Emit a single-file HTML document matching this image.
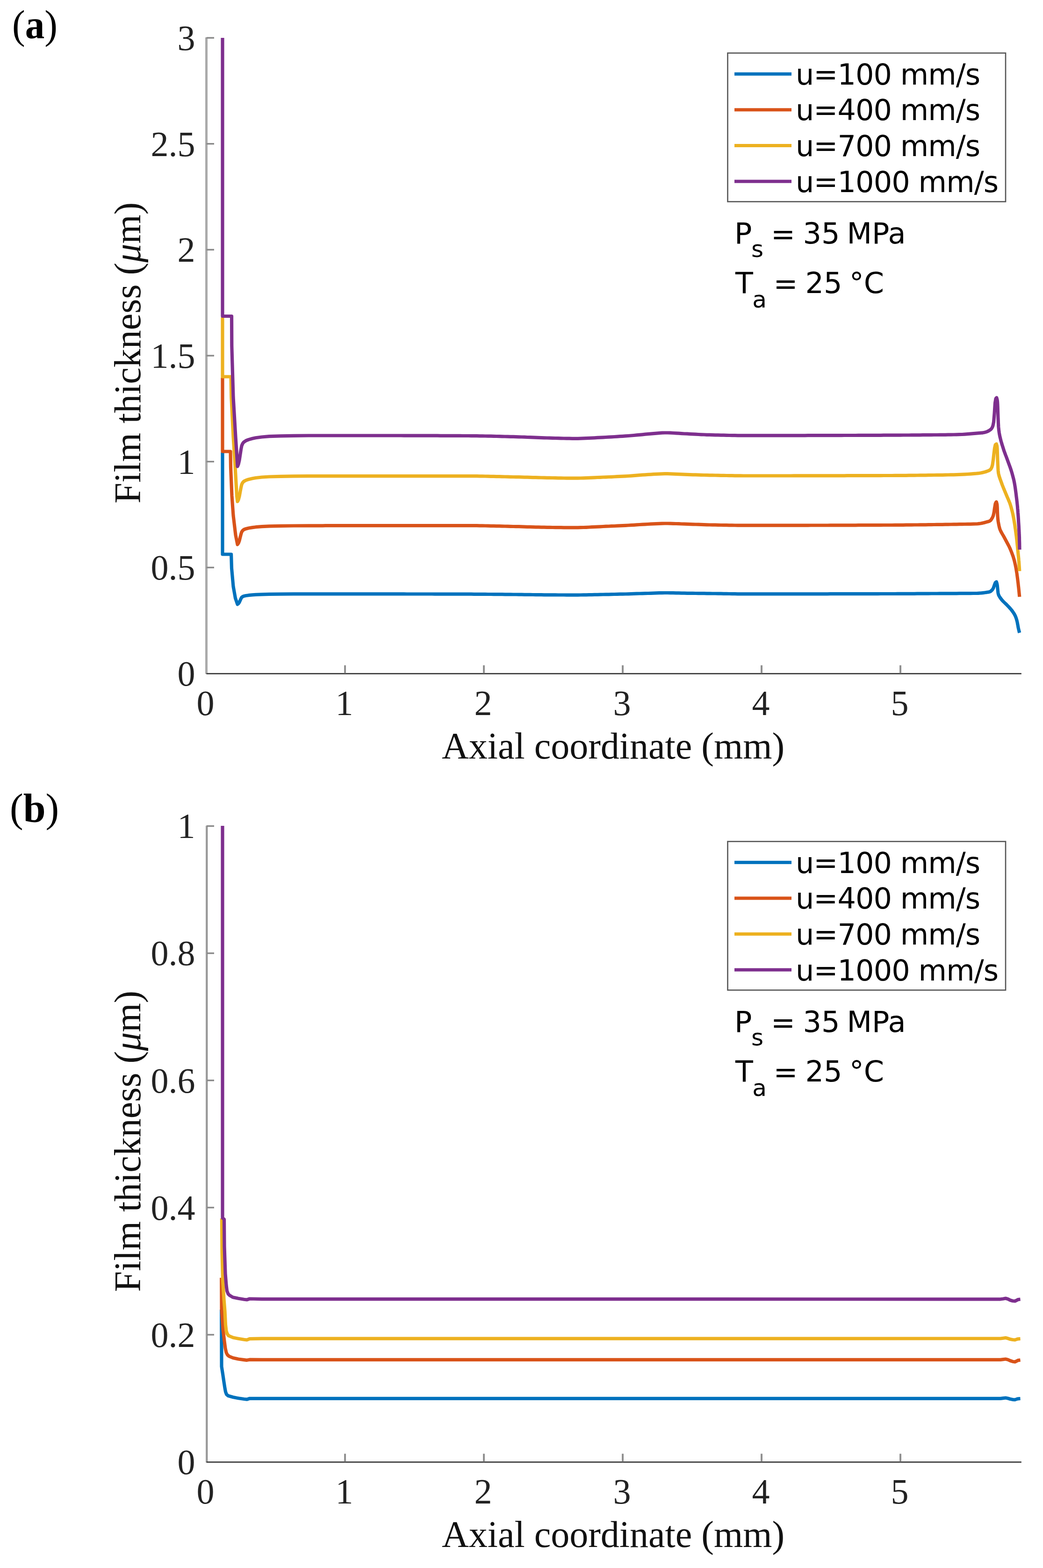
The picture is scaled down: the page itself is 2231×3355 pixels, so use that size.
<!DOCTYPE html>
<html><head><meta charset="utf-8"><title>Film thickness</title>
<style>
html,body{margin:0;padding:0;background:#fff;}
svg{display:block;}
.tk{font-family:"Liberation Serif",serif;font-size:76px;fill:#222;}
.lab{font-family:"Liberation Serif",serif;font-size:80px;fill:#111;}
.pl{font-family:"Liberation Serif",serif;font-size:86px;fill:#000;}
.lg{font-family:"DejaVu Sans","Liberation Sans",sans-serif;font-size:62px;fill:#000;}
.sub{font-family:"DejaVu Sans","Liberation Sans",sans-serif;font-size:50px;fill:#000;}
</style></head><body>
<svg width="2231" height="3355" viewBox="0 0 2231 3355">
<rect x="0" y="0" width="2231" height="3355" fill="#ffffff"/>
<text x="26" y="81.6" class="pl" textLength="97" lengthAdjust="spacingAndGlyphs">(<tspan font-weight="bold">a</tspan>)</text>
<text x="21" y="1758" class="pl">(<tspan font-weight="bold">b</tspan>)</text>
<rect x="439" y="80" width="5" height="1362" fill="#aaaaaa"/>
<text x="417.5" y="1466.8" text-anchor="end" class="tk">0</text>
<rect x="441.5" y="1212.6" width="16.5" height="3.4" fill="#8a8a8a"/>
<text x="417.5" y="1240.1" text-anchor="end" class="tk">0.5</text>
<rect x="441.5" y="986.0" width="16.5" height="3.4" fill="#8a8a8a"/>
<text x="417.5" y="1013.5" text-anchor="end" class="tk">1</text>
<rect x="441.5" y="759.3" width="16.5" height="3.4" fill="#8a8a8a"/>
<text x="417.5" y="786.8" text-anchor="end" class="tk">1.5</text>
<rect x="441.5" y="532.6" width="16.5" height="3.4" fill="#8a8a8a"/>
<text x="417.5" y="560.1" text-anchor="end" class="tk">2</text>
<rect x="441.5" y="306.0" width="16.5" height="3.4" fill="#8a8a8a"/>
<text x="417.5" y="333.5" text-anchor="end" class="tk">2.5</text>
<rect x="441.5" y="79.3" width="16.5" height="3.4" fill="#8a8a8a"/>
<text x="417.5" y="106.8" text-anchor="end" class="tk">3</text>
<rect x="441.4" y="1440" width="1743.4" height="2.8" fill="#404040"/>
<text x="439.5" y="1530" text-anchor="middle" class="tk">0</text>
<rect x="736.0" y="1423.5" width="4" height="17" fill="#909090"/>
<text x="736.5" y="1530" text-anchor="middle" class="tk">1</text>
<rect x="1033.0" y="1423.5" width="4" height="17" fill="#909090"/>
<text x="1033.5" y="1530" text-anchor="middle" class="tk">2</text>
<rect x="1330.0" y="1423.5" width="4" height="17" fill="#909090"/>
<text x="1330.5" y="1530" text-anchor="middle" class="tk">3</text>
<rect x="1627.0" y="1423.5" width="4" height="17" fill="#909090"/>
<text x="1627.5" y="1530" text-anchor="middle" class="tk">4</text>
<rect x="1924.0" y="1423.5" width="4" height="17" fill="#909090"/>
<text x="1924.5" y="1530" text-anchor="middle" class="tk">5</text>
<text x="1311.5" y="1622.5" text-anchor="middle" class="lab">Axial coordinate (mm)</text>
<text transform="translate(299.5,755) rotate(-90)" text-anchor="middle" class="lab">Film thickness (<tspan font-style="italic">μ</tspan>m)</text>
<polyline points="476.0,968.0 476.0,1186.0 494.6,1186.0 495.5,1216.0 499.0,1255.0 503.5,1280.0 508.0,1293.0 510.0,1291.4 512.0,1288.6 514.0,1284.1 515.5,1280.8 517.0,1278.1 519.0,1276.6 521.5,1275.5 526.0,1274.5 531.7,1273.7 540.0,1272.9 547.0,1272.4 560.0,1271.8 576.0,1271.4 600.0,1271.1 628.0,1270.9 660.0,1270.8 666.0,1270.8 672.0,1270.8 678.0,1270.8 684.0,1270.8 690.0,1270.8 696.0,1270.8 702.0,1270.8 708.0,1270.8 714.0,1270.8 720.0,1270.8 726.0,1270.8 732.0,1270.8 738.0,1270.8 744.0,1270.8 750.0,1270.8 756.0,1270.8 762.0,1270.8 768.0,1270.8 774.0,1270.8 780.0,1270.8 786.0,1270.9 792.0,1270.9 798.0,1270.9 804.0,1270.9 810.0,1270.9 816.0,1270.9 822.0,1270.9 828.0,1270.9 834.0,1270.9 840.0,1270.9 846.0,1270.9 852.0,1270.9 858.0,1270.9 864.0,1270.9 870.0,1271.0 876.0,1271.0 882.0,1271.0 888.0,1271.0 894.0,1271.0 900.0,1271.0 906.0,1271.0 912.0,1271.0 918.0,1271.0 924.0,1271.0 930.0,1271.1 936.0,1271.1 942.0,1271.1 948.0,1271.1 954.0,1271.1 960.0,1271.1 966.0,1271.1 972.0,1271.1 978.0,1271.1 984.0,1271.2 990.0,1271.2 996.0,1271.2 1002.0,1271.2 1008.0,1271.2 1014.0,1271.3 1020.0,1271.3 1026.0,1271.3 1032.0,1271.4 1038.0,1271.4 1044.0,1271.5 1050.0,1271.5 1056.0,1271.6 1062.0,1271.6 1068.0,1271.7 1074.0,1271.7 1080.0,1271.8 1086.0,1271.9 1092.0,1271.9 1098.0,1272.0 1104.0,1272.0 1110.0,1272.1 1116.0,1272.2 1122.0,1272.3 1128.0,1272.3 1134.0,1272.4 1140.0,1272.5 1146.0,1272.6 1152.0,1272.6 1158.0,1272.7 1164.0,1272.8 1170.0,1272.8 1176.0,1272.8 1182.0,1272.9 1188.0,1272.9 1194.0,1273.0 1200.0,1273.0 1206.0,1273.0 1212.0,1273.1 1218.0,1273.1 1224.0,1273.1 1230.0,1273.1 1236.0,1273.1 1242.0,1273.0 1248.0,1272.9 1254.0,1272.8 1260.0,1272.7 1266.0,1272.6 1272.0,1272.4 1278.0,1272.3 1284.0,1272.1 1290.0,1272.0 1296.0,1271.9 1302.0,1271.8 1308.0,1271.6 1314.0,1271.5 1320.0,1271.4 1326.0,1271.2 1332.0,1271.1 1338.0,1271.0 1344.0,1270.8 1350.0,1270.6 1356.0,1270.4 1362.0,1270.2 1368.0,1270.0 1374.0,1269.8 1380.0,1269.6 1386.0,1269.5 1392.0,1269.3 1398.0,1269.1 1404.0,1268.9 1410.0,1268.7 1416.0,1268.6 1422.0,1268.5 1428.0,1268.5 1434.0,1268.6 1440.0,1268.7 1446.0,1268.8 1452.0,1268.9 1458.0,1269.1 1464.0,1269.2 1470.0,1269.3 1476.0,1269.4 1482.0,1269.4 1488.0,1269.5 1494.0,1269.6 1500.0,1269.7 1506.0,1269.7 1512.0,1269.8 1518.0,1269.9 1524.0,1270.0 1530.0,1270.0 1536.0,1270.1 1542.0,1270.2 1548.0,1270.3 1554.0,1270.4 1560.0,1270.5 1566.0,1270.6 1572.0,1270.7 1578.0,1270.8 1584.0,1270.8 1590.0,1270.9 1596.0,1270.9 1602.0,1270.9 1608.0,1270.9 1614.0,1270.9 1620.0,1270.9 1626.0,1270.9 1632.0,1270.9 1638.0,1270.9 1644.0,1270.9 1650.0,1270.9 1656.0,1270.9 1662.0,1270.9 1668.0,1270.9 1674.0,1270.9 1680.0,1270.9 1686.0,1270.9 1692.0,1270.9 1698.0,1270.9 1704.0,1270.8 1710.0,1270.8 1716.0,1270.8 1722.0,1270.8 1728.0,1270.8 1734.0,1270.8 1740.0,1270.8 1746.0,1270.8 1752.0,1270.8 1758.0,1270.8 1764.0,1270.8 1770.0,1270.8 1776.0,1270.7 1782.0,1270.7 1788.0,1270.7 1794.0,1270.7 1800.0,1270.7 1806.0,1270.7 1812.0,1270.7 1818.0,1270.7 1824.0,1270.7 1830.0,1270.7 1836.0,1270.6 1842.0,1270.6 1848.0,1270.6 1854.0,1270.6 1860.0,1270.6 1866.0,1270.6 1872.0,1270.6 1878.0,1270.6 1884.0,1270.5 1890.0,1270.5 1896.0,1270.5 1902.0,1270.5 1908.0,1270.5 1914.0,1270.5 1920.0,1270.4 1926.0,1270.4 1932.0,1270.4 1938.0,1270.4 1944.0,1270.3 1950.0,1270.3 1956.0,1270.3 1962.0,1270.2 1968.0,1270.2 1974.0,1270.1 1980.0,1270.1 1986.0,1270.1 1992.0,1270.0 1998.0,1270.0 2004.0,1270.0 2010.0,1269.9 2016.0,1269.9 2022.0,1269.9 2028.0,1269.8 2034.0,1269.8 2040.0,1269.8 2046.0,1269.8 2052.0,1269.7 2058.0,1269.7 2064.0,1269.6 2070.0,1269.6 2076.0,1269.6 2082.0,1269.5 2088.0,1269.5 2090.0,1269.5 2091.5,1269.4 2093.0,1269.3 2094.5,1269.2 2096.0,1269.1 2097.5,1269.0 2099.0,1268.9 2100.5,1268.8 2102.0,1268.6 2103.5,1268.4 2105.0,1268.2 2106.5,1268.0 2108.0,1267.8 2109.5,1267.6 2111.0,1267.3 2112.5,1267.1 2114.0,1266.9 2115.5,1266.6 2117.0,1266.2 2118.5,1265.6 2120.0,1264.4 2121.5,1263.0 2123.0,1261.3 2124.5,1258.9 2126.0,1254.9 2127.5,1250.6 2129.0,1247.0 2130.5,1245.3 2131.3,1245.0 2131.3,1245.0 2132.3,1248.0 2133.0,1251.0 2133.4,1254.0 2133.7,1257.0 2134.0,1260.0 2134.3,1263.0 2134.6,1266.0 2135.0,1269.0 2135.7,1272.0 2137.0,1275.0 2138.8,1278.0 2141.0,1281.0 2143.3,1284.0 2146.1,1287.0 2149.2,1290.0 2152.4,1293.0 2155.3,1296.0 2158.2,1299.0 2160.9,1302.0 2163.5,1305.0 2165.7,1308.0 2167.8,1311.0 2169.7,1314.0 2171.3,1317.0 2172.6,1320.0 2173.7,1323.0 2174.6,1326.0 2175.4,1329.0 2176.1,1332.0 2176.6,1335.0 2177.2,1338.0 2177.7,1341.0 2178.3,1344.0 2179.0,1347.0 2179.7,1350.0 2180.5,1353.0 2180.8,1354.0" fill="none" stroke="#0072BD" stroke-width="7.2" stroke-linejoin="round" stroke-linecap="butt"/>
<polyline points="476.0,808.0 476.0,966.0 493.0,966.0 493.5,1000.0 496.0,1061.0 499.0,1103.0 504.0,1145.0 508.0,1165.0 510.0,1162.2 512.0,1157.0 514.0,1148.9 515.5,1142.9 517.0,1138.1 519.0,1135.3 521.5,1133.2 526.0,1131.4 531.7,1130.0 540.0,1128.6 547.0,1127.7 560.0,1126.6 576.0,1125.8 600.0,1125.3 628.0,1125.0 660.0,1124.8 666.0,1124.8 672.0,1124.8 678.0,1124.8 684.0,1124.8 690.0,1124.8 696.0,1124.7 702.0,1124.7 708.0,1124.7 714.0,1124.7 720.0,1124.7 726.0,1124.7 732.0,1124.7 738.0,1124.7 744.0,1124.7 750.0,1124.7 756.0,1124.7 762.0,1124.7 768.0,1124.7 774.0,1124.7 780.0,1124.7 786.0,1124.6 792.0,1124.6 798.0,1124.6 804.0,1124.6 810.0,1124.6 816.0,1124.6 822.0,1124.6 828.0,1124.6 834.0,1124.6 840.0,1124.6 846.0,1124.6 852.0,1124.6 858.0,1124.6 864.0,1124.6 870.0,1124.6 876.0,1124.6 882.0,1124.6 888.0,1124.6 894.0,1124.6 900.0,1124.6 906.0,1124.6 912.0,1124.6 918.0,1124.6 924.0,1124.6 930.0,1124.6 936.0,1124.6 942.0,1124.6 948.0,1124.6 954.0,1124.6 960.0,1124.6 966.0,1124.6 972.0,1124.6 978.0,1124.6 984.0,1124.6 990.0,1124.6 996.0,1124.6 1002.0,1124.6 1008.0,1124.6 1014.0,1124.7 1020.0,1124.7 1026.0,1124.8 1032.0,1124.9 1038.0,1125.0 1044.0,1125.1 1050.0,1125.3 1056.0,1125.4 1062.0,1125.6 1068.0,1125.7 1074.0,1125.9 1080.0,1126.0 1086.0,1126.2 1092.0,1126.3 1098.0,1126.5 1104.0,1126.6 1110.0,1126.7 1116.0,1126.9 1122.0,1127.1 1128.0,1127.3 1134.0,1127.4 1140.0,1127.6 1146.0,1127.8 1152.0,1127.9 1158.0,1128.1 1164.0,1128.2 1170.0,1128.3 1176.0,1128.4 1182.0,1128.5 1188.0,1128.6 1194.0,1128.6 1200.0,1128.7 1206.0,1128.8 1212.0,1128.8 1218.0,1128.9 1224.0,1128.9 1230.0,1128.9 1236.0,1128.9 1242.0,1128.7 1248.0,1128.5 1254.0,1128.3 1260.0,1128.0 1266.0,1127.7 1272.0,1127.4 1278.0,1127.1 1284.0,1126.8 1290.0,1126.5 1296.0,1126.2 1302.0,1126.0 1308.0,1125.7 1314.0,1125.5 1320.0,1125.2 1326.0,1124.9 1332.0,1124.6 1338.0,1124.3 1344.0,1124.0 1350.0,1123.7 1356.0,1123.3 1362.0,1122.9 1368.0,1122.5 1374.0,1122.1 1380.0,1121.8 1386.0,1121.5 1392.0,1121.2 1398.0,1120.9 1404.0,1120.6 1410.0,1120.3 1416.0,1120.1 1422.0,1120.0 1428.0,1120.0 1434.0,1120.1 1440.0,1120.3 1446.0,1120.5 1452.0,1120.7 1458.0,1121.0 1464.0,1121.2 1470.0,1121.4 1476.0,1121.6 1482.0,1121.8 1488.0,1122.0 1494.0,1122.2 1500.0,1122.4 1506.0,1122.6 1512.0,1122.8 1518.0,1123.0 1524.0,1123.1 1530.0,1123.2 1536.0,1123.3 1542.0,1123.5 1548.0,1123.6 1554.0,1123.7 1560.0,1123.8 1566.0,1123.9 1572.0,1124.0 1578.0,1124.1 1584.0,1124.1 1590.0,1124.2 1596.0,1124.2 1602.0,1124.2 1608.0,1124.2 1614.0,1124.2 1620.0,1124.2 1626.0,1124.2 1632.0,1124.2 1638.0,1124.2 1644.0,1124.2 1650.0,1124.2 1656.0,1124.2 1662.0,1124.2 1668.0,1124.2 1674.0,1124.2 1680.0,1124.1 1686.0,1124.1 1692.0,1124.1 1698.0,1124.1 1704.0,1124.1 1710.0,1124.1 1716.0,1124.1 1722.0,1124.1 1728.0,1124.1 1734.0,1124.0 1740.0,1124.0 1746.0,1124.0 1752.0,1124.0 1758.0,1124.0 1764.0,1124.0 1770.0,1124.0 1776.0,1123.9 1782.0,1123.9 1788.0,1123.9 1794.0,1123.9 1800.0,1123.9 1806.0,1123.9 1812.0,1123.8 1818.0,1123.8 1824.0,1123.8 1830.0,1123.8 1836.0,1123.7 1842.0,1123.7 1848.0,1123.7 1854.0,1123.7 1860.0,1123.7 1866.0,1123.6 1872.0,1123.6 1878.0,1123.6 1884.0,1123.6 1890.0,1123.5 1896.0,1123.5 1902.0,1123.5 1908.0,1123.5 1914.0,1123.4 1920.0,1123.4 1926.0,1123.3 1932.0,1123.3 1938.0,1123.2 1944.0,1123.2 1950.0,1123.1 1956.0,1123.0 1962.0,1123.0 1968.0,1122.9 1974.0,1122.8 1980.0,1122.8 1986.0,1122.7 1992.0,1122.6 1998.0,1122.5 2004.0,1122.4 2010.0,1122.4 2016.0,1122.3 2022.0,1122.2 2028.0,1122.1 2034.0,1122.0 2040.0,1121.9 2046.0,1121.8 2052.0,1121.7 2058.0,1121.6 2064.0,1121.5 2070.0,1121.4 2076.0,1121.3 2082.0,1121.2 2088.0,1121.0 2090.0,1121.0 2091.5,1120.8 2093.0,1120.6 2094.5,1120.4 2096.0,1120.2 2097.5,1120.0 2099.0,1119.7 2100.5,1119.4 2102.0,1119.1 2103.5,1118.7 2105.0,1118.4 2106.5,1118.0 2108.0,1117.6 2109.5,1117.1 2111.0,1116.7 2112.5,1116.3 2114.0,1115.9 2115.5,1115.5 2117.0,1114.8 2118.5,1113.8 2120.0,1112.1 2121.5,1109.8 2123.0,1107.2 2124.5,1103.6 2126.0,1097.4 2127.5,1087.0 2129.0,1078.0 2130.5,1074.6 2131.3,1074.0 2131.3,1074.0 2132.2,1077.0 2132.8,1080.0 2133.0,1083.0 2133.2,1086.0 2133.3,1089.0 2133.4,1092.0 2133.5,1095.0 2133.6,1098.0 2133.8,1101.0 2133.9,1104.0 2134.2,1107.0 2134.4,1110.0 2134.8,1113.0 2135.2,1116.0 2135.7,1119.0 2136.3,1122.0 2136.9,1125.0 2137.6,1128.0 2138.4,1131.0 2139.5,1134.0 2140.9,1137.0 2142.5,1140.0 2144.2,1143.0 2146.0,1146.0 2147.7,1149.0 2149.3,1152.0 2150.9,1155.0 2152.5,1158.0 2154.1,1161.0 2155.7,1164.0 2157.3,1167.0 2158.8,1170.0 2160.2,1173.0 2161.5,1176.0 2162.7,1179.0 2163.9,1182.0 2165.0,1185.0 2166.1,1188.0 2167.2,1191.0 2168.1,1194.0 2169.0,1197.0 2169.8,1200.0 2170.5,1203.0 2171.2,1206.0 2171.9,1209.0 2172.5,1212.0 2173.1,1215.0 2173.6,1218.0 2174.1,1221.0 2174.6,1224.0 2175.1,1227.0 2175.5,1230.0 2175.9,1233.0 2176.3,1236.0 2176.7,1239.0 2177.0,1242.0 2177.4,1245.0 2177.8,1248.0 2178.1,1251.0 2178.4,1254.0 2178.8,1257.0 2179.1,1260.0 2179.4,1263.0 2179.7,1266.0 2180.0,1269.0 2180.3,1272.0 2180.6,1275.0 2180.8,1277.0" fill="none" stroke="#D95319" stroke-width="7.2" stroke-linejoin="round" stroke-linecap="butt"/>
<polyline points="476.0,679.0 476.0,806.0 494.0,806.0 494.8,850.0 499.0,935.0 503.0,998.0 506.5,1061.0 508.0,1073.0 510.0,1069.2 512.0,1062.1 514.0,1051.2 515.5,1043.1 517.0,1036.6 519.0,1032.7 521.5,1030.0 526.0,1027.6 531.7,1025.7 540.0,1023.8 547.0,1022.5 560.0,1021.0 576.0,1020.0 600.0,1019.3 628.0,1018.8 660.0,1018.6 666.0,1018.6 672.0,1018.6 678.0,1018.6 684.0,1018.6 690.0,1018.6 696.0,1018.6 702.0,1018.6 708.0,1018.6 714.0,1018.6 720.0,1018.6 726.0,1018.6 732.0,1018.6 738.0,1018.6 744.0,1018.6 750.0,1018.6 756.0,1018.6 762.0,1018.6 768.0,1018.6 774.0,1018.6 780.0,1018.6 786.0,1018.6 792.0,1018.6 798.0,1018.6 804.0,1018.6 810.0,1018.6 816.0,1018.6 822.0,1018.6 828.0,1018.6 834.0,1018.6 840.0,1018.6 846.0,1018.6 852.0,1018.6 858.0,1018.6 864.0,1018.6 870.0,1018.6 876.0,1018.6 882.0,1018.6 888.0,1018.6 894.0,1018.6 900.0,1018.6 906.0,1018.6 912.0,1018.6 918.0,1018.6 924.0,1018.6 930.0,1018.6 936.0,1018.6 942.0,1018.6 948.0,1018.6 954.0,1018.6 960.0,1018.6 966.0,1018.6 972.0,1018.6 978.0,1018.6 984.0,1018.6 990.0,1018.6 996.0,1018.6 1002.0,1018.6 1008.0,1018.6 1014.0,1018.7 1020.0,1018.7 1026.0,1018.8 1032.0,1018.9 1038.0,1019.0 1044.0,1019.1 1050.0,1019.3 1056.0,1019.4 1062.0,1019.6 1068.0,1019.7 1074.0,1019.9 1080.0,1020.0 1086.0,1020.2 1092.0,1020.3 1098.0,1020.5 1104.0,1020.6 1110.0,1020.7 1116.0,1020.9 1122.0,1021.1 1128.0,1021.2 1134.0,1021.4 1140.0,1021.6 1146.0,1021.7 1152.0,1021.9 1158.0,1022.0 1164.0,1022.2 1170.0,1022.3 1176.0,1022.4 1182.0,1022.5 1188.0,1022.7 1194.0,1022.8 1200.0,1022.9 1206.0,1023.0 1212.0,1023.1 1218.0,1023.1 1224.0,1023.2 1230.0,1023.2 1236.0,1023.2 1242.0,1023.0 1248.0,1022.9 1254.0,1022.7 1260.0,1022.4 1266.0,1022.1 1272.0,1021.8 1278.0,1021.5 1284.0,1021.3 1290.0,1021.0 1296.0,1020.8 1302.0,1020.5 1308.0,1020.3 1314.0,1020.0 1320.0,1019.7 1326.0,1019.4 1332.0,1019.1 1338.0,1018.8 1344.0,1018.5 1350.0,1018.1 1356.0,1017.7 1362.0,1017.2 1368.0,1016.7 1374.0,1016.2 1380.0,1015.8 1386.0,1015.4 1392.0,1015.1 1398.0,1014.7 1404.0,1014.4 1410.0,1014.1 1416.0,1013.8 1422.0,1013.7 1428.0,1013.7 1434.0,1013.8 1440.0,1014.1 1446.0,1014.3 1452.0,1014.6 1458.0,1014.9 1464.0,1015.2 1470.0,1015.4 1476.0,1015.6 1482.0,1015.8 1488.0,1015.9 1494.0,1016.1 1500.0,1016.3 1506.0,1016.5 1512.0,1016.6 1518.0,1016.8 1524.0,1016.9 1530.0,1017.0 1536.0,1017.1 1542.0,1017.3 1548.0,1017.4 1554.0,1017.5 1560.0,1017.6 1566.0,1017.7 1572.0,1017.8 1578.0,1017.9 1584.0,1017.9 1590.0,1018.0 1596.0,1018.0 1602.0,1018.0 1608.0,1018.0 1614.0,1018.0 1620.0,1018.0 1626.0,1018.0 1632.0,1018.0 1638.0,1018.0 1644.0,1018.0 1650.0,1018.0 1656.0,1018.0 1662.0,1018.0 1668.0,1018.0 1674.0,1018.0 1680.0,1018.0 1686.0,1018.0 1692.0,1018.0 1698.0,1017.9 1704.0,1017.9 1710.0,1017.9 1716.0,1017.9 1722.0,1017.9 1728.0,1017.9 1734.0,1017.9 1740.0,1017.9 1746.0,1017.9 1752.0,1017.9 1758.0,1017.9 1764.0,1017.8 1770.0,1017.8 1776.0,1017.8 1782.0,1017.8 1788.0,1017.8 1794.0,1017.8 1800.0,1017.8 1806.0,1017.8 1812.0,1017.7 1818.0,1017.7 1824.0,1017.7 1830.0,1017.7 1836.0,1017.7 1842.0,1017.7 1848.0,1017.7 1854.0,1017.6 1860.0,1017.6 1866.0,1017.6 1872.0,1017.6 1878.0,1017.6 1884.0,1017.6 1890.0,1017.5 1896.0,1017.5 1902.0,1017.5 1908.0,1017.5 1914.0,1017.4 1920.0,1017.4 1926.0,1017.4 1932.0,1017.3 1938.0,1017.3 1944.0,1017.2 1950.0,1017.1 1956.0,1017.1 1962.0,1017.0 1968.0,1016.9 1974.0,1016.8 1980.0,1016.8 1986.0,1016.7 1992.0,1016.6 1998.0,1016.5 2004.0,1016.4 2010.0,1016.4 2016.0,1016.3 2022.0,1016.2 2028.0,1016.0 2034.0,1015.9 2040.0,1015.8 2046.0,1015.6 2052.0,1015.4 2058.0,1015.2 2064.0,1014.9 2070.0,1014.5 2076.0,1014.1 2082.0,1013.6 2088.0,1013.2 2090.0,1013.0 2091.5,1012.8 2093.0,1012.7 2094.5,1012.5 2096.0,1012.2 2097.5,1012.0 2099.0,1011.7 2100.5,1011.4 2102.0,1011.1 2103.5,1010.7 2105.0,1010.3 2106.5,1009.9 2108.0,1009.5 2109.5,1009.0 2111.0,1008.5 2112.5,1007.9 2114.0,1007.4 2115.5,1006.7 2117.0,1005.8 2118.5,1004.7 2120.0,1002.8 2121.5,999.7 2123.0,994.4 2124.5,984.1 2126.0,970.6 2127.5,958.8 2129.0,952.0 2130.5,950.3 2131.3,950.0 2131.3,950.0 2132.2,953.0 2132.8,956.0 2133.0,959.0 2133.2,962.0 2133.3,965.0 2133.4,968.0 2133.5,971.0 2133.6,974.0 2133.7,977.0 2133.8,980.0 2133.9,983.0 2134.0,986.0 2134.1,989.0 2134.3,992.0 2134.4,995.0 2134.6,998.0 2134.7,1001.0 2134.9,1004.0 2135.1,1007.0 2135.4,1010.0 2135.8,1013.0 2136.5,1016.0 2137.3,1019.0 2138.3,1022.0 2139.3,1025.0 2140.4,1028.0 2141.5,1031.0 2142.6,1034.0 2143.6,1037.0 2144.8,1040.0 2146.0,1043.0 2147.2,1046.0 2148.5,1049.0 2149.7,1052.0 2151.0,1055.0 2152.2,1058.0 2153.5,1061.0 2154.7,1064.0 2156.1,1067.0 2157.3,1070.0 2158.6,1073.0 2159.8,1076.0 2160.9,1079.0 2161.8,1082.0 2162.7,1085.0 2163.5,1088.0 2164.3,1091.0 2165.1,1094.0 2165.8,1097.0 2166.5,1100.0 2167.1,1103.0 2167.7,1106.0 2168.3,1109.0 2168.8,1112.0 2169.3,1115.0 2169.8,1118.0 2170.3,1121.0 2170.8,1124.0 2171.2,1127.0 2171.6,1130.0 2172.1,1133.0 2172.5,1136.0 2172.9,1139.0 2173.3,1142.0 2173.7,1145.0 2174.1,1148.0 2174.4,1151.0 2174.8,1154.0 2175.1,1157.0 2175.4,1160.0 2175.7,1163.0 2176.0,1166.0 2176.3,1169.0 2176.6,1172.0 2176.9,1175.0 2177.2,1178.0 2177.5,1181.0 2177.8,1184.0 2178.1,1187.0 2178.4,1190.0 2178.7,1193.0 2179.0,1196.0 2179.2,1199.0 2179.5,1202.0 2179.7,1205.0 2179.9,1208.0 2180.1,1211.0 2180.3,1214.0 2180.5,1217.0 2180.7,1220.0 2180.8,1222.0" fill="none" stroke="#EDB120" stroke-width="7.2" stroke-linejoin="round" stroke-linecap="butt"/>
<polyline points="476.0,81.0 476.0,676.5 495.5,676.5 495.8,740.0 499.0,850.0 504.0,935.0 506.0,965.0 508.0,998.0 510.0,993.4 512.0,984.8 514.0,971.6 515.5,961.7 517.0,953.8 519.0,949.2 521.5,945.9 526.0,942.9 531.7,940.6 540.0,938.3 547.0,936.8 560.0,935.0 576.0,933.6 600.0,932.8 628.0,932.3 660.0,932.0 666.0,932.0 672.0,932.0 678.0,932.0 684.0,932.0 690.0,932.0 696.0,932.0 702.0,932.0 708.0,932.0 714.0,932.0 720.0,932.0 726.0,932.0 732.0,932.0 738.0,932.0 744.0,932.0 750.0,932.0 756.0,932.0 762.0,932.0 768.0,932.0 774.0,932.0 780.0,932.0 786.0,932.0 792.0,932.0 798.0,932.0 804.0,932.0 810.0,932.0 816.0,932.0 822.0,932.0 828.0,932.0 834.0,932.0 840.0,932.0 846.0,932.0 852.0,932.0 858.0,932.0 864.0,932.1 870.0,932.1 876.0,932.1 882.0,932.1 888.0,932.1 894.0,932.1 900.0,932.1 906.0,932.1 912.0,932.2 918.0,932.2 924.0,932.2 930.0,932.2 936.0,932.2 942.0,932.3 948.0,932.3 954.0,932.3 960.0,932.3 966.0,932.3 972.0,932.4 978.0,932.4 984.0,932.4 990.0,932.5 996.0,932.5 1002.0,932.5 1008.0,932.6 1014.0,932.6 1020.0,932.7 1026.0,932.8 1032.0,932.9 1038.0,933.0 1044.0,933.1 1050.0,933.2 1056.0,933.4 1062.0,933.5 1068.0,933.7 1074.0,933.8 1080.0,934.0 1086.0,934.1 1092.0,934.3 1098.0,934.4 1104.0,934.6 1110.0,934.8 1116.0,935.0 1122.0,935.2 1128.0,935.5 1134.0,935.7 1140.0,935.9 1146.0,936.2 1152.0,936.4 1158.0,936.6 1164.0,936.8 1170.0,937.0 1176.0,937.2 1182.0,937.3 1188.0,937.5 1194.0,937.7 1200.0,937.9 1206.0,938.0 1212.0,938.1 1218.0,938.2 1224.0,938.3 1230.0,938.3 1236.0,938.3 1242.0,938.1 1248.0,937.9 1254.0,937.7 1260.0,937.4 1266.0,937.1 1272.0,936.8 1278.0,936.4 1284.0,936.1 1290.0,935.8 1296.0,935.5 1302.0,935.2 1308.0,934.8 1314.0,934.5 1320.0,934.1 1326.0,933.7 1332.0,933.3 1338.0,932.9 1344.0,932.5 1350.0,932.0 1356.0,931.5 1362.0,930.9 1368.0,930.3 1374.0,929.8 1380.0,929.2 1386.0,928.7 1392.0,928.2 1398.0,927.6 1404.0,927.1 1410.0,926.6 1416.0,926.2 1422.0,926.0 1428.0,926.0 1434.0,926.2 1440.0,926.5 1446.0,926.8 1452.0,927.2 1458.0,927.6 1464.0,928.0 1470.0,928.2 1476.0,928.6 1482.0,928.9 1488.0,929.2 1494.0,929.5 1500.0,929.8 1506.0,930.0 1512.0,930.3 1518.0,930.4 1524.0,930.6 1530.0,930.8 1536.0,930.9 1542.0,931.1 1548.0,931.2 1554.0,931.3 1560.0,931.5 1566.0,931.6 1572.0,931.7 1578.0,931.8 1584.0,931.8 1590.0,931.9 1596.0,931.9 1602.0,931.9 1608.0,931.9 1614.0,931.9 1620.0,931.9 1626.0,931.9 1632.0,931.9 1638.0,931.9 1644.0,931.9 1650.0,931.9 1656.0,931.9 1662.0,931.9 1668.0,931.9 1674.0,931.8 1680.0,931.8 1686.0,931.8 1692.0,931.8 1698.0,931.8 1704.0,931.8 1710.0,931.8 1716.0,931.8 1722.0,931.8 1728.0,931.7 1734.0,931.7 1740.0,931.7 1746.0,931.7 1752.0,931.7 1758.0,931.7 1764.0,931.7 1770.0,931.6 1776.0,931.6 1782.0,931.6 1788.0,931.6 1794.0,931.6 1800.0,931.6 1806.0,931.5 1812.0,931.5 1818.0,931.5 1824.0,931.5 1830.0,931.5 1836.0,931.4 1842.0,931.4 1848.0,931.4 1854.0,931.4 1860.0,931.3 1866.0,931.3 1872.0,931.3 1878.0,931.3 1884.0,931.3 1890.0,931.2 1896.0,931.2 1902.0,931.2 1908.0,931.2 1914.0,931.1 1920.0,931.1 1926.0,931.1 1932.0,931.0 1938.0,931.0 1944.0,931.0 1950.0,930.9 1956.0,930.9 1962.0,930.8 1968.0,930.8 1974.0,930.7 1980.0,930.7 1986.0,930.6 1992.0,930.6 1998.0,930.5 2004.0,930.5 2010.0,930.4 2016.0,930.3 2022.0,930.3 2028.0,930.2 2034.0,930.1 2040.0,930.0 2046.0,929.9 2052.0,929.7 2058.0,929.5 2064.0,929.1 2070.0,928.6 2076.0,928.1 2082.0,927.7 2088.0,927.2 2094.0,926.7 2100.0,926.2 2101.5,926.1 2103.0,925.8 2104.5,925.5 2106.0,925.2 2107.5,924.8 2109.0,924.3 2110.5,923.8 2112.0,923.3 2113.5,922.5 2115.0,921.7 2116.5,920.8 2118.0,919.8 2119.5,918.6 2121.0,917.0 2122.5,914.5 2124.0,910.4 2125.5,903.0 2127.0,885.0 2128.5,862.0 2130.0,853.0 2131.5,851.1 2131.8,851.0 2131.8,851.0 2132.7,854.0 2133.3,857.0 2133.6,860.0 2133.8,863.0 2133.9,866.0 2134.1,869.0 2134.2,872.0 2134.3,875.0 2134.4,878.0 2134.5,881.0 2134.6,884.0 2134.7,887.0 2134.8,890.0 2134.9,893.0 2135.0,896.0 2135.2,899.0 2135.3,902.0 2135.4,905.0 2135.6,908.0 2135.7,911.0 2135.9,914.0 2136.2,917.0 2136.5,920.0 2136.9,923.0 2137.3,926.0 2137.8,929.0 2138.4,932.0 2139.0,935.0 2139.8,938.0 2140.5,941.0 2141.3,944.0 2142.2,947.0 2143.0,950.0 2144.0,953.0 2144.9,956.0 2145.9,959.0 2146.8,962.0 2147.8,965.0 2148.9,968.0 2150.0,971.0 2151.1,974.0 2152.3,977.0 2153.4,980.0 2154.5,983.0 2155.6,986.0 2156.7,989.0 2157.8,992.0 2158.9,995.0 2160.0,998.0 2161.1,1001.0 2162.1,1004.0 2163.1,1007.0 2164.0,1010.0 2164.9,1013.0 2165.7,1016.0 2166.5,1019.0 2167.3,1022.0 2168.1,1025.0 2168.8,1028.0 2169.4,1031.0 2170.0,1034.0 2170.5,1037.0 2171.0,1040.0 2171.5,1043.0 2171.9,1046.0 2172.3,1049.0 2172.7,1052.0 2173.1,1055.0 2173.5,1058.0 2173.8,1061.0 2174.2,1064.0 2174.6,1067.0 2174.9,1070.0 2175.3,1073.0 2175.6,1076.0 2175.9,1079.0 2176.2,1082.0 2176.5,1085.0 2176.7,1088.0 2177.0,1091.0 2177.2,1094.0 2177.4,1097.0 2177.7,1100.0 2177.9,1103.0 2178.1,1106.0 2178.3,1109.0 2178.5,1112.0 2178.6,1115.0 2178.8,1118.0 2179.0,1121.0 2179.2,1124.0 2179.4,1127.0 2179.5,1130.0 2179.7,1133.0 2179.8,1136.0 2180.0,1139.0 2180.1,1142.0 2180.2,1145.0 2180.4,1148.0 2180.5,1151.0 2180.5,1154.0 2180.6,1157.0 2180.7,1160.0 2180.8,1163.0 2180.8,1166.0 2180.9,1169.0 2180.9,1172.0 2181.0,1175.0 2181.0,1176.0" fill="none" stroke="#7E2F8E" stroke-width="7.2" stroke-linejoin="round" stroke-linecap="butt"/>
<rect x="1556.5" y="113.5" width="594.5" height="318" fill="#ffffff" stroke="#555555" stroke-width="2.6"/>
<rect x="1571" y="154.8" width="122" height="7" fill="#0072BD"/>
<text x="1702" y="180.8" class="lg" textLength="395" lengthAdjust="spacing">u=100 mm/s</text>
<rect x="1571" y="231.4" width="122" height="7" fill="#D95319"/>
<text x="1702" y="257.4" class="lg" textLength="395" lengthAdjust="spacing">u=400 mm/s</text>
<rect x="1571" y="308.0" width="122" height="7" fill="#EDB120"/>
<text x="1702" y="334.0" class="lg" textLength="395" lengthAdjust="spacing">u=700 mm/s</text>
<rect x="1571" y="384.6" width="122" height="7" fill="#7E2F8E"/>
<text x="1702" y="410.6" class="lg" textLength="434" lengthAdjust="spacing">u=1000 mm/s</text>
<text x="1571" y="520.7" class="lg">P</text>
<text x="1607" y="550" class="sub">s</text>
<text x="1675" y="522.5" class="lg" text-anchor="middle">=</text>
<text x="1757" y="520.7" class="lg" text-anchor="middle">35</text>
<text x="1874.5" y="520.7" class="lg" text-anchor="middle">MPa</text>
<text x="1592" y="627" class="lg" text-anchor="middle">T</text>
<text x="1624.6" y="658" class="sub" text-anchor="middle">a</text>
<text x="1680.5" y="629" class="lg" text-anchor="middle">=</text>
<text x="1762" y="627" class="lg" text-anchor="middle">25</text>
<text x="1854" y="627" class="lg" text-anchor="middle">°C</text>
<rect x="439.3" y="1767" width="2" height="1362" fill="#cccccc"/>
<rect x="441.3" y="1767" width="2.7" height="1362" fill="#808080"/>
<text x="417.5" y="3153.8" text-anchor="end" class="tk">0</text>
<rect x="441.5" y="2854.2" width="16.5" height="3.4" fill="#8a8a8a"/>
<text x="417.5" y="2881.7" text-anchor="end" class="tk">0.2</text>
<rect x="441.5" y="2582.1" width="16.5" height="3.4" fill="#8a8a8a"/>
<text x="417.5" y="2609.6" text-anchor="end" class="tk">0.4</text>
<rect x="441.5" y="2310.0" width="16.5" height="3.4" fill="#8a8a8a"/>
<text x="417.5" y="2337.5" text-anchor="end" class="tk">0.6</text>
<rect x="441.5" y="2037.9" width="16.5" height="3.4" fill="#8a8a8a"/>
<text x="417.5" y="2065.4" text-anchor="end" class="tk">0.8</text>
<rect x="441.5" y="1765.8" width="16.5" height="3.4" fill="#8a8a8a"/>
<text x="417.5" y="1793.3" text-anchor="end" class="tk">1</text>
<rect x="441.4" y="3127" width="1743.4" height="2.8" fill="#404040"/>
<text x="439.5" y="3217" text-anchor="middle" class="tk">0</text>
<rect x="736.0" y="3110.5" width="4" height="17" fill="#909090"/>
<text x="736.5" y="3217" text-anchor="middle" class="tk">1</text>
<rect x="1033.0" y="3110.5" width="4" height="17" fill="#909090"/>
<text x="1033.5" y="3217" text-anchor="middle" class="tk">2</text>
<rect x="1330.0" y="3110.5" width="4" height="17" fill="#909090"/>
<text x="1330.5" y="3217" text-anchor="middle" class="tk">3</text>
<rect x="1627.0" y="3110.5" width="4" height="17" fill="#909090"/>
<text x="1627.5" y="3217" text-anchor="middle" class="tk">4</text>
<rect x="1924.0" y="3110.5" width="4" height="17" fill="#909090"/>
<text x="1924.5" y="3217" text-anchor="middle" class="tk">5</text>
<text x="1311.5" y="3309.5" text-anchor="middle" class="lab">Axial coordinate (mm)</text>
<text transform="translate(299.5,2442) rotate(-90)" text-anchor="middle" class="lab">Film thickness (<tspan font-style="italic">μ</tspan>m)</text>
<polyline points="473.7,2802.0 474.0,2924.0 476.5,2940.0 479.0,2957.0 481.0,2970.0 482.5,2978.0 484.5,2983.5 488.0,2986.5 498.5,2989.5 510.0,2991.8 522.0,2993.5 528.0,2994.2 534.0,2992.3 560.0,2992.4 2140.0,2992.4 2146.0,2991.6 2151.0,2991.0 2156.0,2992.0 2161.0,2993.5 2166.0,2994.6 2171.0,2995.0 2175.0,2993.5 2178.0,2992.8 2182.5,2992.5" fill="none" stroke="#0072BD" stroke-width="7.2" stroke-linejoin="round" stroke-linecap="butt"/>
<polyline points="473.7,2734.0 474.0,2800.0 477.0,2845.0 480.0,2870.0 482.0,2885.0 484.0,2894.0 486.5,2899.0 490.0,2902.0 498.5,2905.5 510.0,2908.0 522.0,2909.6 528.0,2910.3 534.0,2909.2 560.0,2909.4 2140.0,2909.4 2146.0,2908.6 2151.0,2908.0 2156.0,2909.2 2161.0,2911.5 2166.0,2913.2 2171.0,2914.0 2175.0,2912.0 2178.0,2910.6 2182.5,2910.0" fill="none" stroke="#D95319" stroke-width="7.2" stroke-linejoin="round" stroke-linecap="butt"/>
<polyline points="474.4,2607.0 475.0,2680.0 476.5,2740.0 479.0,2780.0 481.0,2805.0 482.5,2835.0 484.0,2848.0 486.0,2854.0 489.0,2858.0 498.5,2862.0 510.0,2864.3 522.0,2866.2 528.0,2867.0 534.0,2864.6 560.0,2864.2 2140.0,2864.0 2146.0,2863.2 2151.0,2862.5 2156.0,2863.8 2161.0,2865.5 2166.0,2866.5 2171.0,2867.0 2175.0,2865.5 2178.0,2864.8 2182.5,2864.5" fill="none" stroke="#EDB120" stroke-width="7.2" stroke-linejoin="round" stroke-linecap="butt"/>
<polyline points="476.0,1767.0 476.0,2606.0 479.5,2609.0 480.0,2667.0 482.0,2725.0 484.0,2750.0 485.5,2762.0 488.0,2768.5 491.0,2771.5 498.0,2775.8 510.0,2778.3 522.0,2780.2 528.0,2781.0 534.0,2779.0 560.0,2779.6 2140.0,2779.8 2146.0,2779.0 2151.0,2778.0 2156.0,2779.5 2161.0,2782.0 2166.0,2783.5 2171.0,2784.0 2175.0,2782.0 2178.0,2780.5 2182.5,2780.0" fill="none" stroke="#7E2F8E" stroke-width="7.2" stroke-linejoin="round" stroke-linecap="butt"/>
<rect x="1556.5" y="1800.5" width="594.5" height="318" fill="#ffffff" stroke="#555555" stroke-width="2.6"/>
<rect x="1571" y="1841.8" width="122" height="7" fill="#0072BD"/>
<text x="1702" y="1867.8" class="lg" textLength="395" lengthAdjust="spacing">u=100 mm/s</text>
<rect x="1571" y="1918.4" width="122" height="7" fill="#D95319"/>
<text x="1702" y="1944.4" class="lg" textLength="395" lengthAdjust="spacing">u=400 mm/s</text>
<rect x="1571" y="1995.0" width="122" height="7" fill="#EDB120"/>
<text x="1702" y="2021.0" class="lg" textLength="395" lengthAdjust="spacing">u=700 mm/s</text>
<rect x="1571" y="2071.6" width="122" height="7" fill="#7E2F8E"/>
<text x="1702" y="2097.6" class="lg" textLength="434" lengthAdjust="spacing">u=1000 mm/s</text>
<text x="1571" y="2207.7" class="lg">P</text>
<text x="1607" y="2237" class="sub">s</text>
<text x="1675" y="2209.5" class="lg" text-anchor="middle">=</text>
<text x="1757" y="2207.7" class="lg" text-anchor="middle">35</text>
<text x="1874.5" y="2207.7" class="lg" text-anchor="middle">MPa</text>
<text x="1592" y="2314" class="lg" text-anchor="middle">T</text>
<text x="1624.6" y="2345" class="sub" text-anchor="middle">a</text>
<text x="1680.5" y="2316" class="lg" text-anchor="middle">=</text>
<text x="1762" y="2314" class="lg" text-anchor="middle">25</text>
<text x="1854" y="2314" class="lg" text-anchor="middle">°C</text>
</svg>
</body></html>
